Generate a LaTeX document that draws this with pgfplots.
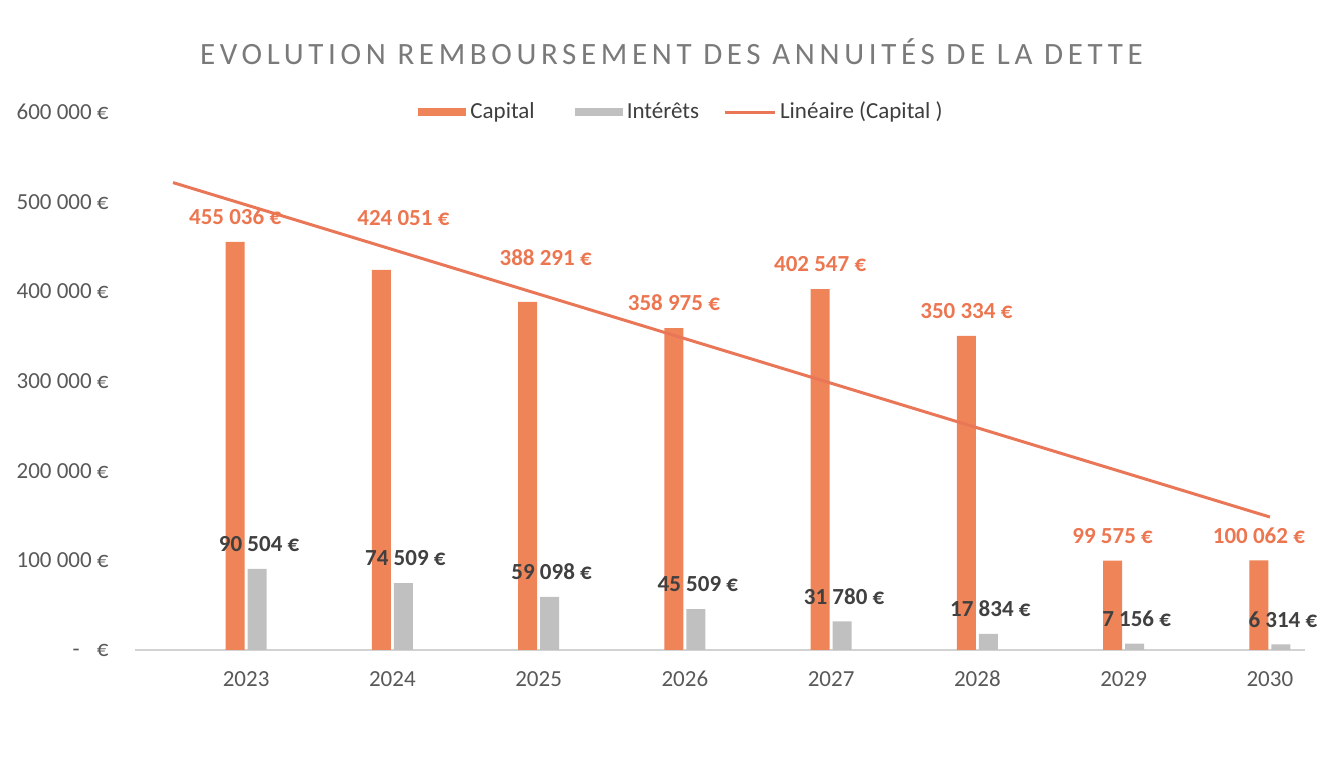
\documentclass[border=0pt]{standalone}
\usepackage{pgfplots}
\pgfplotsset{compat=1.18}
\usepackage{pgfplotstable}
\usepackage{fontspec}
\setmainfont{Carlito}

\definecolor{capcol}{RGB}{238,132,88}
\definecolor{intcol}{RGB}{192,192,192}
\definecolor{trendcol}{RGB}{234,118,88}
\definecolor{capl}{RGB}{236,118,80}
\definecolor{intl}{RGB}{64,64,64}
\definecolor{tickc}{RGB}{89,89,89}
\definecolor{titlec}{RGB}{122,122,122}
\definecolor{axc}{RGB}{210,210,210}

\pgfplotstableread{
x y dx dy
1 455036 0 0
2 424051 11 13.5
3 388291 9 9.5
4 358975 0 0
5 402547 0 0
6 350334 0 0
7 99575 0 0
8 100062 0 0
}\capdata
\pgfplotstableread{
x y
1 90504
2 74509
3 59098
4 45509
5 31780
6 17834
7 7156
8 6314
}\intdata

\begin{document}
\begin{tikzpicture}
\useasboundingbox (-67.5pt,-54pt) rectangle (597.5pt,325pt);
\begin{axis}[
  at={(0pt,0pt)}, anchor=south west,
  scale only axis, width=585pt, height=269pt,
  xmin=0.24, xmax=8.24, ymin=0, ymax=600000,
  scaled y ticks=false,
  ybar=1.5pt, bar width=9.5pt,
  axis x line*=bottom, axis y line*=left,
  x axis line style={-, draw=axc, line width=1pt},
  y axis line style={draw=none},
  xtick={1,2,3,4,5,6,7,8},
  xticklabels={2023,2024,2025,2026,2027,2028,2029,2030},
  ytick={0,100000,200000,300000,400000,500000,600000},
  yticklabels={{-\hspace{0.75em}€},{100 000 €},{200 000 €},{300 000 €},{400 000 €},{500 000 €},{600 000 €}},
  major tick length=0pt,
  tick label style={font=\fontsize{11.5}{13}\selectfont, text=tickc},
  xticklabel style={anchor=center, yshift=-14.5pt},
  yticklabel style={anchor=east, inner sep=0pt, xshift=-13pt},
  clip=false,
  legend columns=3,
  legend style={draw=none, fill=none, at={(0.4680,1.0)}, anchor=center,
    font=\fontsize{11.5}{13}\selectfont, text=tickc!70!black,
    /tikz/every even column/.append style={column sep=18pt},
    /tikz/every odd column/.append style={column sep=0pt},
    nodes={inner sep=2pt}},
  legend cell align=left,
  /pgf/number format/assume math mode=true,
]
\addplot[fill=capcol, draw=none,
  legend image code/.code={\fill (0pt,-2pt) rectangle (24pt,2pt);},
  visualization depends on={\thisrow{dx} \as \ldx},
  visualization depends on={\thisrow{dy} \as \ldy},
  nodes near coords={\pgfmathprintnumber[fixed,precision=0,1000 sep={\ }]{\pgfplotspointmeta}\ €},
  every node near coord/.append style={anchor=center, font=\fontsize{11.5}{13}\selectfont\bfseries, text=capl, xshift=\ldx pt, yshift={12.5pt+\ldy pt}},
] table[x=x,y=y]{\capdata};
\addlegendentry{Capital}
\addplot[fill=intcol, draw=none,
  legend image code/.code={\fill (0pt,-2pt) rectangle (24pt,2pt);},
  nodes near coords={\pgfmathprintnumber[fixed,precision=0,1000 sep={\ }]{\pgfplotspointmeta}\ €},
  every node near coord/.append style={anchor=center, font=\fontsize{11.5}{13}\selectfont\bfseries, text=intl, xshift=1pt, yshift=12.5pt},
] table[x=x,y=y]{\intdata};
\addlegendentry{Intérêts}
\addplot[sharp plot, draw=trendcol, line width=1.5pt, mark=none,
  legend image code/.code={\draw[overlay, line width=1.5pt] (-8pt,0pt) -- (17pt,0pt); \path (0pt,0pt) -- (17pt,0pt);},
] coordinates {(0.5,521287) (8,148296)};
\addlegendentry{Linéaire (Capital )}
\end{axis}
\node[anchor=base, text=titlec, font=\fontsize{15.5}{17}\selectfont\addfontfeature{LetterSpace=15}] at (268.25pt,292.5pt) {EVOLUTION REMBOURSEMENT DES ANNUITÉS DE LA DETTE};
\end{tikzpicture}
\end{document}
